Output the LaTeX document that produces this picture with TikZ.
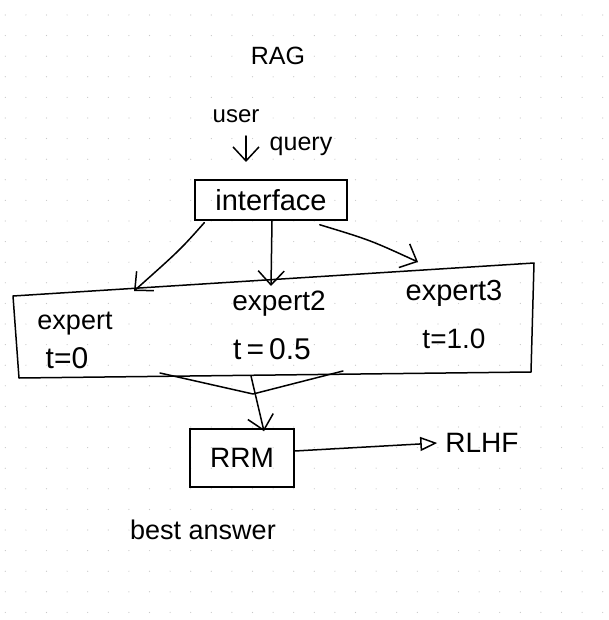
\documentclass[tikz,border=0pt]{standalone}
\usepackage{fontspec}
\setmainfont{Liberation Sans}
\usetikzlibrary{arrows.meta}
\begin{document}
\begin{tikzpicture}[x=1pt,y=-1pt,
  ink/.style={line width=1.5pt, line cap=round, line join=round, draw=black},
  hand/.style={font=\fontsize{27}{29}\selectfont, inner sep=0pt},
  vhead/.style={-{Straight Barb[length=14pt,width=26pt,line width=1.5pt]}},
  thead/.style={-{Triangle[open,length=17pt,width=14pt,line width=1.5pt]}}]
\useasboundingbox (0,0) rectangle (608,620);
\fill[white] (0,0) rectangle (608,620);
% dotted paper
\foreach \i in {0,...,29} \foreach \j in {0,...,29}
  \fill[black!22] ({5.3+20.6*\i},{15+20.6*\j}) circle (0.6pt);

% titles and labels
\node[hand, font=\fontsize{25}{27}\selectfont] (rag) at (278,56) {RAG};
\node[hand, font=\fontsize{24}{26}\selectfont] (user) at (236,116) {user};
\node[hand, font=\fontsize{25}{27}\selectfont] (query) at (301,146) {query};
\coordinate (uq1) at (246,136);
\coordinate (uq2) at (246,162);
\draw[ink, vhead] (uq1) -- (uq2);

% interface
\node[hand, draw, line width=1.5pt, minimum width=152pt, minimum height=40pt, font=\fontsize{29}{31}\selectfont] (iface) at (271,200) {interface};

% big experts box
\coordinate (b1) at (13,296);
\coordinate (b2) at (534,263);
\coordinate (b3) at (531,372);
\coordinate (b4) at (19,378);
\draw[ink] (b1) -- (b2) -- (b3) -- (b4) -- cycle;

\node[hand] (e1) at (75,324) {expert};
\node[hand, font=\fontsize{30}{32}\selectfont] (t1) at (67,358) {t=0};
\node[hand, font=\fontsize{28}{30}\selectfont] (e2) at (279,304) {expert2};
\node[hand, font=\fontsize{30}{32}\selectfont] (t2) at (272,349) {t\,=\,0.5};
\node[hand, font=\fontsize{29}{31}\selectfont] (e3) at (454,293) {expert3};
\node[hand, font=\fontsize{28}{30}\selectfont] (t3) at (454,339) {t=1.0};

% arrows from interface to experts
\coordinate (a1) at (134,291);
\coordinate (a2) at (271,286);
\coordinate (a3) at (418,262);
\draw[ink, vhead] (iface.south west) ++(10,2) .. controls (180,250) .. (a1);
\draw[ink, vhead] ([xshift=1pt]iface.south) -- (a2);
\draw[ink, vhead] ([xshift=-28pt,yshift=-4pt]iface.south east) .. controls (370,240) .. (a3);

% funnel to RRM
\coordinate (f1) at (160,373);
\coordinate (f2) at (253,394);
\coordinate (f3) at (343,371);
\draw[ink] (f1) -- (f2) -- (f3);
\coordinate (fa) at (251,376);

\node[hand, draw, line width=1.5pt, minimum width=104pt, minimum height=58pt, font=\fontsize{28}{30}\selectfont] (rrm) at (242,458) {RRM};
\draw[ink, vhead] (fa) -- ([xshift=22pt,yshift=-3pt]rrm.north);

\node[hand, font=\fontsize{28}{30}\selectfont] (rlhf) at (482,443) {RLHF};
\draw[ink, thead] ([yshift=7pt]rrm.east) -- ([xshift=-8pt]rlhf.west);

\node[hand] (best) at (203,530) {best answer};
\end{tikzpicture}
\end{document}
